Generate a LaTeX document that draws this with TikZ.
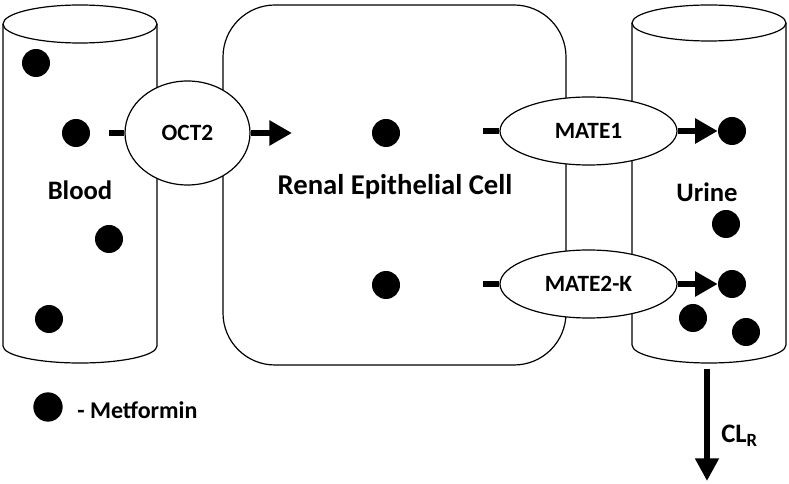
\documentclass[tikz,border=0pt]{standalone}
\usepackage{fontspec}
\setmainfont{Carlito}
\usetikzlibrary{shapes.geometric,arrows.meta}

\begin{document}
\begin{tikzpicture}[x=0.75pt,y=0.75pt,yscale=-1,xscale=1,
  mol/.style={circle,fill=black,inner sep=0pt,minimum size=21pt},
  carrier/.style={ellipse,draw,fill=white,inner sep=0pt,line width=0.9pt,font=\fontsize{17.5}{20}\selectfont\bfseries},
  stub/.style={line width=4.5pt},
  flow/.style={line width=4.5pt,-{Triangle[length=17pt,width=18pt]}},
  biglabel/.style={font=\fontsize{20}{24}\selectfont\bfseries}]
\useasboundingbox (0,0) rectangle (789,484);

%Shape: Can [Blood]
\draw[line width=0.9pt] (80,24) ellipse [x radius=77, y radius=19];
\draw[line width=0.9pt] (3,24) -- (3,346) arc [start angle=180, end angle=0, x radius=77, y radius=17] -- (157,24);
%Shape: Can [Urine]
\draw[line width=0.9pt] (709,23) ellipse [x radius=77, y radius=18];
\draw[line width=0.9pt] (632,23) -- (632,345) arc [start angle=180, end angle=0, x radius=77, y radius=18] -- (786,23);
%Shape: Rounded Rectangle [Cell]
\draw[line width=0.9pt, rounded corners=39pt] (223,5) rectangle (566,365);

%Shape: Ellipse
\node[carrier, minimum width=93.75pt, minimum height=78pt] (OCT2) at (187.5,133) {OCT2};
%Shape: Ellipse
\node[carrier, minimum width=132.75pt, minimum height=51pt] (MATE1) at (588.5,131) {MATE1};
%Shape: Ellipse
\node[carrier, minimum width=132.75pt, minimum height=51pt] (MATE2K) at (588.5,284) {MATE2-K};

% Metformin
\node[mol] (b1) at (36,63) {};
\node[mol] (b2) at (76,133) {};
\node[mol] (b3) at (109,239) {};
\node[mol] (b4) at (49,319) {};
\node[mol] (c1) at (386,133) {};
\node[mol] (c2) at (386,285) {};
\node[mol] (u1) at (732,131) {};
\node[mol] (u2) at (726,224) {};
\node[mol] (u3) at (732,284) {};
\node[mol] (u4) at (693,318) {};
\node[mol] (u5) at (746,332) {};
\node[mol, minimum size=22pt] (key) at (48,407) {};

%Straight Lines
\coordinate (octin) at (109,133);
\coordinate (octout) at (292,133);
\coordinate (m1in) at (483,131);
\coordinate (m2in) at (483,284);
\draw[stub] (octin) -- (OCT2.west);
\draw[flow] (OCT2.east) -- (octout);
\draw[stub] (m1in) -- (MATE1.west);
\draw[flow] (MATE1.east) -- (u1.west);
\draw[stub] (m2in) -- (MATE2K.west);
\draw[flow] (MATE2K.east) -- (u3.west);
%Straight Lines [renal clearance]
\coordinate (clrtop) at (707,369);
\coordinate (clrend) at (707,481);
\draw[line width=5pt,-{Triangle[length=17pt,width=17pt]}] (clrtop) -- (clrend);

% Text Node
\node[biglabel] (blood) at (80,190) {Blood};
% Text Node
\node[biglabel] (urine) at (707,192) {Urine};
% Text Node
\node[font=\fontsize{21.5}{25}\selectfont\bfseries] (cell) at (395,187) {Renal Epithelial Cell};
% Text Node
\node[anchor=base west, inner sep=0pt, font=\fontsize{18}{22}\selectfont\bfseries] (keytext) at (77,419) {- Metformin};
% Text Node
\node[anchor=base west, inner sep=0pt, biglabel] (clr) at (721,442) {CL\textsubscript{R}};
\end{tikzpicture}
\end{document}
